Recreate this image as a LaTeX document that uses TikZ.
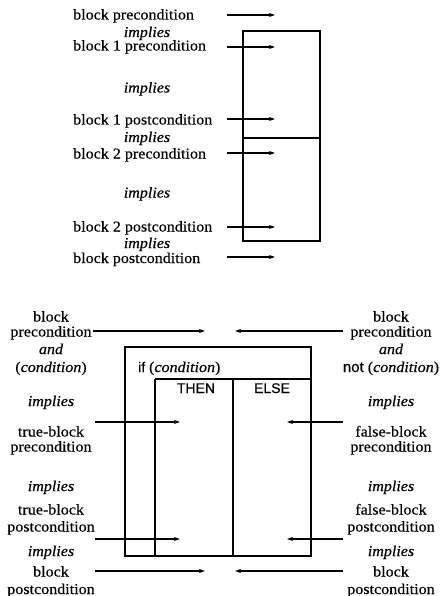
\documentclass[tikz,border=0pt]{standalone}
\usepackage{fontspec}
\setmainfont[FakeStretch=1.07,FakeBold=0.4]{Liberation Serif}
\setsansfont[FakeBold=0.4]{Liberation Sans}
\usetikzlibrary{arrows.meta}
\begin{document}
\begin{tikzpicture}[x=1pt,y=-1pt,
  txt/.style={font=\fontsize{15}{17}\selectfont, inner sep=0pt, anchor=base},
  imp/.style={font=\fontsize{15}{17}\selectfont\itshape, inner sep=0pt, anchor=base},
  sf/.style={font=\fontsize{14}{16}\selectfont\sffamily, inner sep=0pt, anchor=base},
  arr/.style={-{Stealth[length=6pt,width=4pt]}, line width=1.1pt},
  box/.style={line width=1.5pt}]
\useasboundingbox (0,0) rectangle (440,596);

% ---------- top diagram ----------
\node[txt,anchor=base west] (bp)  at (73,19.5)  {block precondition};
\node[imp] (i1) at (147,37)   {implies};
\node[txt,anchor=base west] (b1p) at (73,50.5)  {block 1 precondition};
\node[imp] (i2) at (147,92.5) {implies};
\node[txt,anchor=base west] (b1q) at (73,124.5) {block 1 postcondition};
\node[imp] (i3) at (147,142)  {implies};
\node[txt,anchor=base west] (b2p) at (73,158.5) {block 2 precondition};
\node[imp] (i4) at (147,197.5) {implies};
\node[txt,anchor=base west] (b2q) at (73,231.5) {block 2 postcondition};
\node[imp] (i5) at (147,248)  {implies};
\node[txt,anchor=base west] (bq)  at (73,263)   {block postcondition};

\draw[box] (243,31) rectangle (320,241);
\draw[box] (243,138) -- (320,138);

\foreach \n/\yy in {1/15,2/47,3/119,4/153,5/227,6/257} {
  \coordinate (ts\n) at (227,\yy);
  \coordinate (te\n) at (275,\yy);
  \draw[arr] (ts\n) -- (te\n);
}

% ---------- bottom diagram ----------
% left column
\node[txt] (l1) at (51,321.5) {block};
\node[txt] (l2) at (51,336.5) {precondition};
\node[imp] (l3) at (51,354)   {and};
\node[txt] (l4) at (51,372)   {(\textit{condition})};
\node[imp] (l5) at (51,406)   {implies};
\node[txt] (l6) at (51,436.5) {true-block};
\node[txt] (l7) at (51,451.5) {precondition};
\node[imp] (l8) at (51,491)   {implies};
\node[txt] (l9) at (51,514.5) {true-block};
\node[txt] (l10) at (51,531.5) {postcondition};
\node[imp] (l11) at (51,556)  {implies};
\node[txt] (l12) at (51,576.5) {block};
\node[txt] (l13) at (51,594)  {postcondition};

% right column
\node[txt] (r1) at (391,321.5) {block};
\node[txt] (r2) at (391,336.5) {precondition};
\node[imp] (r3) at (391,354)   {and};
\node[txt] (r4) at (391,372)   {{\sffamily not} (\textit{condition})};
\node[imp] (r5) at (391,406)   {implies};
\node[txt] (r6) at (391,436.5) {false-block};
\node[txt] (r7) at (391,451.5) {precondition};
\node[imp] (r8) at (391,491)   {implies};
\node[txt] (r9) at (391,514.5) {false-block};
\node[txt] (r10) at (391,531.5) {postcondition};
\node[imp] (r11) at (391,556)  {implies};
\node[txt] (r12) at (391,576.5) {block};
\node[txt] (r13) at (391,594)  {postcondition};

% if box
\draw[box] (125,347) rectangle (311,556);
\draw[box] (155,379) -- (311,379);
\draw[box] (155,379) -- (155,556);
\draw[box] (233,379) -- (233,556);
\node[sf,anchor=base west] (ifc) at (138,372) {if {\rmfamily\fontsize{15}{17}\selectfont(\textit{condition})}};
\node[sf] (then) at (196,393) {THEN};
\node[sf] (else) at (272,393) {ELSE};

% arrows
\foreach \n/\xa/\xb/\yy in {1/93/205/331, 2/343/235/331, 3/95/180/422, 4/343/287/422,
                            5/95/180/539, 6/343/287/539, 7/95/205/571, 8/343/235/571} {
  \coordinate (bs\n) at (\xa,\yy);
  \coordinate (be\n) at (\xb,\yy);
  \draw[arr] (bs\n) -- (be\n);
}
\end{tikzpicture}
\end{document}
